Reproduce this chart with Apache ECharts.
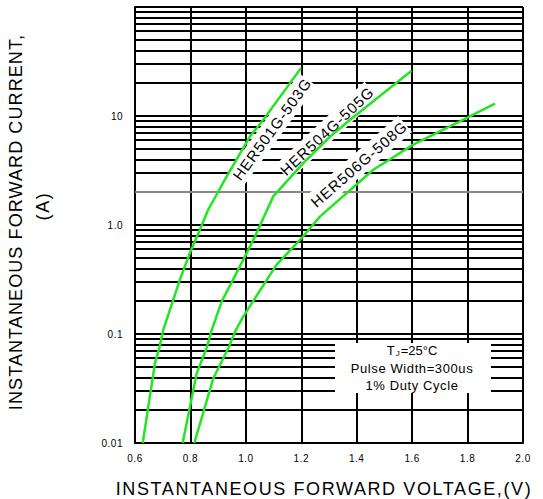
<!DOCTYPE html>
<html>
<head>
<meta charset="utf-8">
<script src="https://cdn.jsdelivr.net/npm/echarts@6/dist/echarts.min.js"></script>
<style>html,body{margin:0;padding:0;background:#fff;overflow:hidden}#c{width:543px;height:499px}</style>
</head>
<body>
<div id="c"></div>
<script>
// ---- data ----
var seriesNames = ['HER501G-503G', 'HER504G-505G', 'HER506G-508G'];
var her501 = [[0.628,0.01],[0.672,0.054],[0.688,0.075],[0.702,0.109],[0.738,0.206],[0.762,0.315],[0.798,0.553],[0.834,0.906],[0.864,1.38],[0.931,2.79],[1.015,6.5],[1.063,9.25],[1.199,27.5]];
var her504 = [[0.772,0.01],[0.823,0.044],[0.859,0.075],[0.877,0.109],[0.913,0.199],[0.997,0.515],[1.033,0.786],[1.099,1.83],[1.207,3.7],[1.305,6.5],[1.376,9.25],[1.598,26]];
var her506 = [[0.814,0.01],[0.883,0.0395],[0.937,0.0745],[0.964,0.109],[0.991,0.145],[1.111,0.433],[1.196,0.733],[1.268,1.2],[1.46,3.21],[1.604,5.46],[1.785,9.25],[1.899,13]];
var xMin = 0.6, xMax = 2.0, xStep = 0.2;
var yMin = 0.01, yMax = 100;
var yTickLabels = {'-2':'0.01','-1':'0.1','0':'1.0','1':'10','2':''};
var gridMultipliers = [1,2,3,4,5,6,7,8,9];
var decades = [0.01, 0.1, 1, 10];
var noteLines = ['T{sub|J}=25°C', 'Pulse Width=300us', '1% Duty Cycle'];
var xName = 'INSTANTANEOUS FORWARD VOLTAGE,(V)';
var yName1 = 'INSTANTANEOUS FORWARD CURRENT,';
var yName2 = '(A)';

// ---- build ----
var FONT = '"Liberation Sans", Arial, sans-serif';
var GREEN = '#22e622';
var hLines = [];
decades.forEach(function(d){
  gridMultipliers.forEach(function(k){
    var v = +(k*d).toPrecision(3);
    var gray = (d === 1 && k === 2);
    hLines.push({yAxis: v, lineStyle: {color: gray ? '#888' : '#000', width: 2, type: 'solid'}});
  });
});
hLines.push({yAxis: yMax, lineStyle: {color: '#000', width: 2, type: 'solid'}});

function curve(name, data){
  return {
    name: name, type: 'line', data: data, z: 10,
    showSymbol: false, symbol: 'none', smooth: false,
    lineStyle: {color: GREEN, width: 2.5}, animation: false
  };
}
function label(text, x, y, deg){
  return {type: 'text', x: x, y: y, rotation: deg*Math.PI/180, z: 5,
    style: {text: text, fill: '#000', font: '15px ' + FONT, align: 'center', verticalAlign: 'middle',
      backgroundColor: '#fff', padding: [3, 6]}};
}

var chart = echarts.init(document.getElementById('c'), null, {renderer: 'svg'});
chart.setOption({
  backgroundColor: '#fff',
  animation: false,
  grid: {left: 135, right: 20, top: 7, bottom: 56, containLabel: false},
  xAxis: {
    type: 'value', min: xMin, max: xMax, interval: xStep,
    axisLine: {show: true, lineStyle: {color: '#000', width: 2}},
    axisTick: {show: false},
    splitLine: {show: true, lineStyle: {color: '#000', width: 2}},
    axisLabel: {color: '#000', fontSize: 10, fontFamily: FONT, margin: 10,
      formatter: function(v){ return v.toFixed(1); }}
  },
  yAxis: {
    type: 'log', logBase: 10, min: yMin, max: yMax,
    axisLine: {show: true, lineStyle: {color: '#000', width: 2}},
    axisTick: {show: false},
    splitLine: {show: false},
    axisLabel: {color: '#000', fontSize: 10, fontFamily: FONT, margin: 12,
      formatter: function(v){ var e = Math.round(Math.log10(v)); return yTickLabels[String(e)] || ''; }}
  },
  series: [
    {type: 'line', data: [], z: 1, silent: true,
     markLine: {silent: true, z: 1, symbol: 'none', animation: false, label: {show: false}, data: hLines}},
    curve(seriesNames[0], her501),
    curve(seriesNames[1], her504),
    curve(seriesNames[2], her506)
  ],
  graphic: [
    {type: 'text', x: 324, y: 489, z: 5,
     style: {text: xName, fill: '#000', font: '18px ' + FONT, align: 'center', verticalAlign: 'middle'}},
    {type: 'text', x: 16, y: 222, rotation: Math.PI/2, z: 5,
     style: {text: yName1, fill: '#000', font: '18px ' + FONT, align: 'center', verticalAlign: 'middle'}},
    {type: 'text', x: 43, y: 206, rotation: Math.PI/2, z: 5,
     style: {text: yName2, fill: '#000', font: '18px ' + FONT, align: 'center', verticalAlign: 'middle'}},
    label(seriesNames[0], 272, 129, 54),
    label(seriesNames[1], 327, 131, 43),
    label(seriesNames[2], 359, 164, 41),
    {type: 'rect', z: 5, shape: {x: 335, y: 343, width: 156, height: 50}, style: {fill: '#fff'}},
    {type: 'text', x: 412, y: 350, z: 6,
     style: {text: noteLines[0], fill: '#000', font: '13px ' + FONT, align: 'center', verticalAlign: 'middle',
       rich: {sub: {fontSize: 8, fontFamily: FONT, verticalAlign: 'bottom', padding: [7,1,0,1]}}}},
    {type: 'text', x: 412, y: 368, z: 6,
     style: {text: noteLines[1], fill: '#000', font: '13px ' + FONT, align: 'center', verticalAlign: 'middle'}},
    {type: 'text', x: 412, y: 385, z: 6,
     style: {text: noteLines[2], fill: '#000', font: '13px ' + FONT, align: 'center', verticalAlign: 'middle'}}
  ]
});

// Letter spacing to match the wide tracking of the original artwork
function track(){
  var nodes = document.querySelectorAll('#c text');
  nodes.forEach(function(t){
    var s = t.textContent;
    var sp = '0.5px';
    if (s === xName) sp = '1.6px';
    else if (s === yName1) sp = '1.1px';
    else if (s === yName2) sp = '1.6px';
    else if (seriesNames.indexOf(s) >= 0) sp = '1px';
    else if (s.indexOf('Pulse') === 0 || s.indexOf('Duty') >= 0) sp = '0.6px';
    else if (s === 'T' || s === 'J' || s.indexOf('=25') >= 0) sp = '0px';
    t.style.letterSpacing = sp;
  });
}
track();
chart.on('finished', track);
</script>
</body>
</html>
